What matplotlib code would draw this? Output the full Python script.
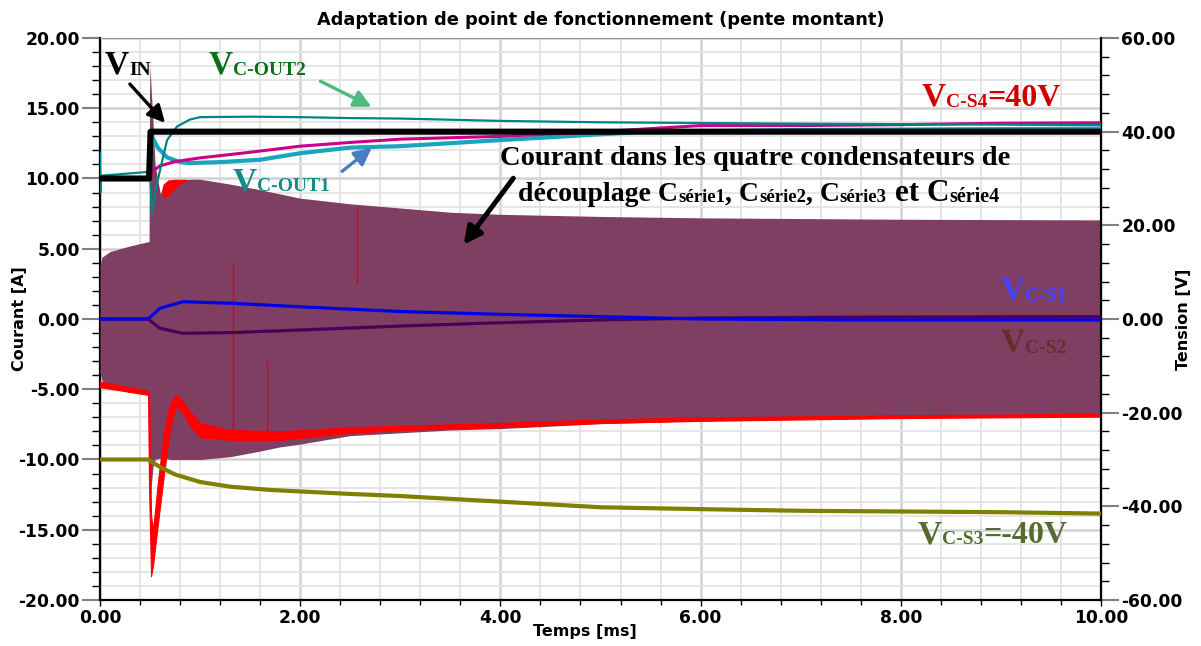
import matplotlib
matplotlib.use('Agg')
import matplotlib.pyplot as plt
from matplotlib.ticker import MultipleLocator, FormatStrFormatter

plt.rcParams['axes.unicode_minus'] = False

# time axis [ms]; currents on the left axis [A], voltages on the right axis [V]

# capacitor current envelope (purple band)
t_band = [0.0, 0.02, 0.1, 0.3, 0.48, 0.49, 0.495, 0.50, 0.51, 0.53, 0.55, 0.60, 0.65, 0.70,
          0.80, 0.90, 1.0, 1.3, 1.6, 1.8, 2.0, 2.5, 3.0, 3.5, 4.0, 5.0, 6.0, 7.0, 8.0, 10.0]
band_hi = [3.8, 4.4, 4.8, 5.2, 5.5, 5.5, 16.0, 18.2, 16.5, 14.0, 11.0, 9.0, 8.6, 8.9,
           9.6, 9.95, 9.95, 9.6, 9.2, 8.9, 8.6, 8.2, 7.9, 7.6, 7.45, 7.3, 7.2, 7.15, 7.1, 7.05]
band_lo = [-3.8, -4.4, -4.7, -5.0, -5.3, -9.0, -12.0, -13.0, -12.0, -10.5, -10.0, -9.9, -9.9, -10.0,
           -10.0, -10.0, -10.0, -9.8, -9.4, -9.1, -8.9, -8.3, -8.1, -7.9, -7.8, -7.45, -7.25, -7.1, -7.0, -6.9]

# one capacitor current, lower part (red)
t_red = [0.0, 0.48, 0.49, 0.51, 0.53, 0.58, 0.64, 0.70, 0.76, 0.82, 0.90, 1.0, 1.3, 1.8,
         2.5, 3.0, 4.0, 5.0, 6.0, 8.0, 10.0]
red_lo = [-4.85, -5.4, -12.0, -18.3, -17.5, -14.5, -11.0, -7.8, -6.2, -6.6, -7.6, -8.4, -8.6, -8.6,
          -8.1, -7.9, -7.7, -7.4, -7.25, -7.05, -6.95]
red_hi = [-4.45, -5.1, -5.3, -14.0, -15.0, -11.5, -8.0, -6.0, -5.4, -5.8, -6.6, -7.4, -7.9, -8.0,
          -7.7, -7.6, -7.4, -7.15, -7.0, -6.85, -6.75]
# same current, upper part (mostly hidden by the band)
t_red_top = [0.60, 0.63, 0.68, 0.75, 0.85, 0.92]
red_top = [8.7, 9.6, 9.9, 9.95, 9.95, 9.9]
# isolated red spikes
red_spike_t = [1.33, 1.67, 2.57]
red_spike_lo = [-7.9, -8.0, 2.5]
red_spike_hi = [4.0, -3.0, 8.0]

# voltages [V]
t_vin = [0.0, 0.49, 0.505, 10.0]
v_in = [30.0, 30.0, 40.0, 40.0]

t_out2 = [0.0, 0.004, 0.008, 0.015, 0.48, 0.50, 0.52, 0.56, 0.60, 0.67, 0.77, 0.90, 1.0,
          1.5, 2.0, 2.5, 3.0, 4.0, 5.0, 6.0, 7.0, 8.0, 10.0]
v_out2 = [35.5, 27.0, 30.4, 30.6, 31.4, 31.3, 22.6, 28.0, 31.8, 38.2, 41.1, 42.6, 43.1,
          43.2, 43.1, 42.9, 42.8, 42.3, 42.0, 41.85, 41.7, 41.6, 41.4]

t_out1 = [0.0, 0.49, 0.52, 0.58, 0.67, 0.80, 0.90, 1.2, 1.6, 2.0, 2.5, 3.0, 4.0, 5.0,
          5.5, 7.0, 10.0]
v_out1 = [30.0, 30.0, 38.9, 36.5, 34.5, 33.5, 33.3, 33.5, 34.0, 35.4, 36.6, 36.9, 38.2, 39.45,
          40.0, 40.35, 40.65]

t_s4 = [0.0, 0.49, 0.52, 0.60, 0.75, 1.0, 1.5, 2.0, 2.5, 3.0, 4.0, 5.0, 6.0, 7.0, 8.0,
        9.0, 10.0]
v_s4 = [30.0, 30.0, 31.5, 32.7, 33.6, 34.4, 35.6, 36.9, 37.7, 38.4, 39.0, 40.0, 41.3, 41.3, 41.5,
        41.8, 41.9]

t_s12 = [0.0, 0.48, 0.60, 0.83, 1.33, 2.0, 3.0, 4.0, 5.0, 6.0, 7.5, 10.0]
v_s1 = [0.0, 0.0, 2.3, 3.7, 3.35, 2.6, 1.6, 1.0, 0.5, 0.0, -0.2, -0.2]
v_s2 = [0.0, 0.0, -2.0, -3.05, -2.9, -2.35, -1.5, -0.8, -0.2, 0.2, 0.4, 0.5]

t_s3 = [0.0, 0.48, 0.60, 0.75, 1.0, 1.3, 1.7, 2.5, 3.0, 4.0, 5.0, 6.0, 7.0, 8.0, 9.0, 10.0]
v_s3 = [-30.0, -30.0, -31.6, -33.2, -34.8, -35.8, -36.5, -37.35, -37.8, -39.0, -40.2, -40.6,
        -40.95, -41.1, -41.25, -41.55]

W, H = 1201, 646
fig = plt.figure(figsize=(W / 100, H / 100), dpi=100)
ax = fig.add_axes([100 / W, 1 - 600 / H, 1001 / W, 562 / H])
ax2 = ax.twinx()

SANS = 'DejaVu Sans'
SERIF = 'Liberation Serif'

# currents
ax.fill_between(t_red_top, 0, red_top, color='#ff0000', lw=0, zorder=2)
ax.fill_between(t_band, band_lo, band_hi, color='#7f3f62', lw=0, zorder=3)
ax.fill_between(t_red, red_lo, red_hi, color='#ff0000', lw=0.8, edgecolor='#ff0000', zorder=4)
ax.vlines(red_spike_t, red_spike_lo, red_spike_hi, color='#e00000', lw=1.0, zorder=4)

# voltages
ax2.plot(t_s3, v_s3, color='#808000', lw=3.0, zorder=3)
ax2.plot(t_s12, v_s2, color='#4b0055', lw=2.3, zorder=3)
ax2.plot(t_s12, v_s1, color='#0000e6', lw=2.3, zorder=3)
ax2.plot(t_out1, v_out1, color='#19a5bd', lw=3.0, zorder=3)
ax2.plot(t_s4, v_s4, color='#cc0088', lw=2.2, zorder=3)
ax2.plot(t_out2, v_out2, color='#008585', lw=1.6, zorder=4)
ax2.plot(t_vin, v_in, color='black', lw=4.4, zorder=5, solid_joinstyle='round')

# axes
ax.set_xlim(0, 10)
ax.set_ylim(-20, 20)
ax2.set_ylim(-60, 60)
ax.xaxis.set_major_locator(MultipleLocator(2))
ax.xaxis.set_minor_locator(MultipleLocator(0.4))
ax.yaxis.set_major_locator(MultipleLocator(5))
ax.yaxis.set_minor_locator(MultipleLocator(1))
ax2.yaxis.set_major_locator(MultipleLocator(20))
ax2.yaxis.set_minor_locator(MultipleLocator(4))
for a in (ax.xaxis, ax.yaxis, ax2.yaxis):
    a.set_major_formatter(FormatStrFormatter('%.2f'))

ax.grid(which='minor', color='#e3e3e3', lw=1.3)
ax.grid(which='major', color='#d2d2d2', lw=1.8)
ax.set_axisbelow(True)

# tick lengths in points (dpi 100)
ax.tick_params(axis='y', which='major', length=13, width=1.5, color='#808080', pad=1.5)
ax.tick_params(axis='y', which='minor', length=6, width=1.0, color='black')
ax2.tick_params(axis='y', which='major', length=13, width=1.5, color='#808080', pad=1.5)
ax2.tick_params(axis='y', which='minor', length=6, width=1.0, color='black')
ax.tick_params(axis='x', which='major', length=4.5, width=1.0, color='black', pad=2)
ax.tick_params(axis='x', which='minor', length=3.6, width=1.0, color='black')
for a in (ax, ax2):
    for lab in a.get_xticklabels() + a.get_yticklabels():
        lab.set_fontfamily(SANS)
        lab.set_fontweight('bold')
        lab.set_fontsize(12.3)

for s in ('left', 'bottom'):
    ax.spines[s].set_linewidth(1.6)
ax2.spines['right'].set_linewidth(1.6)
ax.spines['top'].set_color('#999999')
ax2.spines['top'].set_visible(False)
ax2.spines['left'].set_visible(False)
ax2.spines['bottom'].set_visible(False)

ax.set_title('Adaptation de point de fonctionnement (pente montant)', fontfamily=SANS,
             fontweight='bold', fontsize=12.8, pad=9)
ax.set_xlabel('Temps [ms]', fontfamily=SANS, fontweight='bold', fontsize=11.5)
ax.set_ylabel('Courant [A]', fontfamily=SANS, fontweight='bold', fontsize=11.5)
ax2.set_ylabel('Tension [V]', fontfamily=SANS, fontweight='bold', fontsize=11.5)
ax.xaxis.set_label_coords(0.4845, -0.042)
ax.yaxis.set_label_coords(-0.073, 0.5)
ax2.yaxis.set_label_coords(1.075, 0.5)


def rich(x, y, parts, color):
    # parts: (text, size, baseline shift in px); x, y in pixels from the top-left
    r = fig.canvas.get_renderer()
    for s, size, dy in parts:
        t = fig.text(x / W, 1 - (y + dy) / H, s, fontsize=size, color=color,
                     fontfamily=SERIF, fontweight='bold', ha='left', va='baseline')
        x += t.get_window_extent(r).width


rich(105, 74, [('V', 24, 0), ('IN', 14, 1)], 'black')
rich(209, 74, [('V', 24, 0), ('C-OUT2', 14, 1)], '#0c6e18')
rich(233, 190, [('V', 24, 0), ('C-OUT1', 14, 1)], '#158a8a')
rich(922, 106, [('V', 24, 0), ('C-S4', 14, 1), ('=40V', 23, 0)], '#d00000')
rich(1001, 300, [('V', 24, 0), ('C-S1', 14, 1)], '#4444ff')
rich(1001, 352, [('V', 24, 0), ('C-S2', 14, 1)], '#6b2b2b')
rich(918, 543, [('V', 24, 0), ('C-S3', 14, 1), ('=-40V', 23, 0)], '#556b2f')

rich(500, 165, [('Courant dans les quatre condensateurs de', 20.5, 0)], 'black')
rich(518, 201, [('découplage C', 20, 0), ('série1', 13.5, 1), (', C', 20, 0), ('série2', 13.5, 1),
                (', C', 20, 0), ('série3', 13.5, 1), (' et C', 22.5, 0), ('série4', 14.5, 1)], 'black')


def arrow(x0, y0, x1, y1, color, lw):
    fig.add_artist(matplotlib.patches.FancyArrowPatch(
        (x0 / W, 1 - y0 / H), (x1 / W, 1 - y1 / H), transform=fig.transFigure,
        arrowstyle='-|>', mutation_scale=26, lw=lw, color=color, zorder=10))


arrow(128, 82, 167, 125, 'black', 2.4)
arrow(318, 80, 374, 108, '#4dbb80', 2.4)
arrow(340, 173, 374, 146, '#4a7cc0', 2.4)
arrow(515, 176, 462, 247, 'black', 3.6)

fig.savefig('out.png', dpi=100)
